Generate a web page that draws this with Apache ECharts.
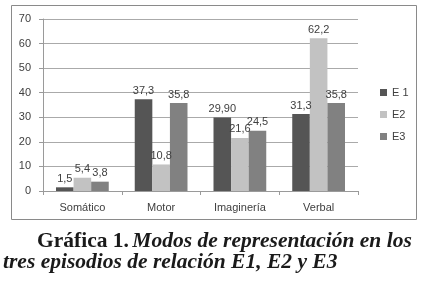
<!DOCTYPE html>
<html>
<head>
<meta charset="utf-8">
<script src="https://cdn.jsdelivr.net/npm/echarts@6/dist/echarts.min.js"></script>
<style>
  html, body { margin: 0; padding: 0; background: #fff; }
  #chart { width: 425px; height: 285px; }
</style>
</head>
<body>
<div id="chart"></div>
<script>
// categorias y valores
const categories = ['Somático', 'Motor', 'Imaginería', 'Verbal'];
const seriesNames = ['E 1', 'E2', 'E3'];
const valuesE1 = [1.5, 37.3, 29.9, 31.3];
const valuesE2 = [5.4, 10.8, 21.6, 62.2];
const valuesE3 = [3.8, 35.8, 24.5, 35.8];
// etiquetas tal cual aparecen (coma decimal)
const labelsE1 = ['1,5', '37,3', '29,90', '31,3'];
const labelsE2 = ['5,4', '10,8', '21,6', '62,2'];
const labelsE3 = ['3,8', '35,8', '24,5', '35,8'];
const yTicks = [0, 10, 20, 30, 40, 50, 60, 70];

const colors = ['#555555', '#c2c2c2', '#818181'];
const font = 'Liberation Sans';
const serif = 'Liberation Serif';

const myChart = echarts.init(document.getElementById('chart'));

const makeSeries = (name, values, labels, i) => ({
  name: name,
  type: 'bar',
  data: values,
  barGap: '0%',
  barCategoryGap: '33%',
  itemStyle: {color: colors[i]},
  label: {
    show: true,
    position: 'top',
    distance: 3,
    color: '#404040',
    fontFamily: font,
    fontSize: 11,
    formatter: p => labels[p.dataIndex]
  }
});

const option = {
  animation: false,
  backgroundColor: '#fff',
  grid: {left: 43, top: 19, right: 67, bottom: 94},
  legend: {
    orient: 'vertical',
    left: 375,
    top: 82,
    itemWidth: 7,
    itemHeight: 7,
    itemGap: 11,
    icon: 'rect',
    textStyle: {color: '#404040', fontFamily: font, fontSize: 11},
    data: seriesNames
  },
  xAxis: {
    type: 'category',
    data: categories,
    axisLine: {lineStyle: {color: '#9a9a9a'}},
    axisTick: {show: true, length: 4, lineStyle: {color: '#9a9a9a'}},
    axisLabel: {color: '#404040', fontFamily: font, fontSize: 11, margin: 11}
  },
  yAxis: {
    type: 'value',
    min: yTicks[0],
    max: yTicks[yTicks.length - 1],
    interval: 10,
    axisLine: {show: true, lineStyle: {color: '#9a9a9a'}},
    axisTick: {show: true, length: 4, lineStyle: {color: '#9a9a9a'}},
    splitLine: {lineStyle: {color: '#aaaaaa'}},
    axisLabel: {color: '#404040', fontFamily: font, fontSize: 11, margin: 12}
  },
  series: [
    makeSeries(seriesNames[0], valuesE1, labelsE1, 0),
    makeSeries(seriesNames[1], valuesE2, labelsE2, 1),
    makeSeries(seriesNames[2], valuesE3, labelsE3, 2)
  ],
  graphic: [
    {
      type: 'rect',
      shape: {x: 11.5, y: 5.5, width: 405, height: 214},
      style: {fill: null, stroke: '#8a8a8a', lineWidth: 1},
      silent: true
    },
    {
      type: 'text',
      left: 37,
      top: 230,
      style: {
        text: '{b|Gráfica 1.} {i|Modos de representación en los}',
        rich: {
          b: {fontFamily: serif, fontWeight: 'bold', fontSize: 21.5, fill: '#1a1a1a'},
          i: {fontFamily: serif, fontWeight: 'bold', fontStyle: 'italic', fontSize: 21.5, fill: '#1a1a1a'}
        }
      }
    },
    {
      type: 'text',
      left: 3,
      top: 251,
      style: {
        text: 'tres episodios de relación E1, E2 y E3',
        fontFamily: serif,
        fontWeight: 'bold',
        fontStyle: 'italic',
        fontSize: 21.5,
        fill: '#1a1a1a'
      }
    }
  ]
};

myChart.setOption(option);
</script>
</body>
</html>
